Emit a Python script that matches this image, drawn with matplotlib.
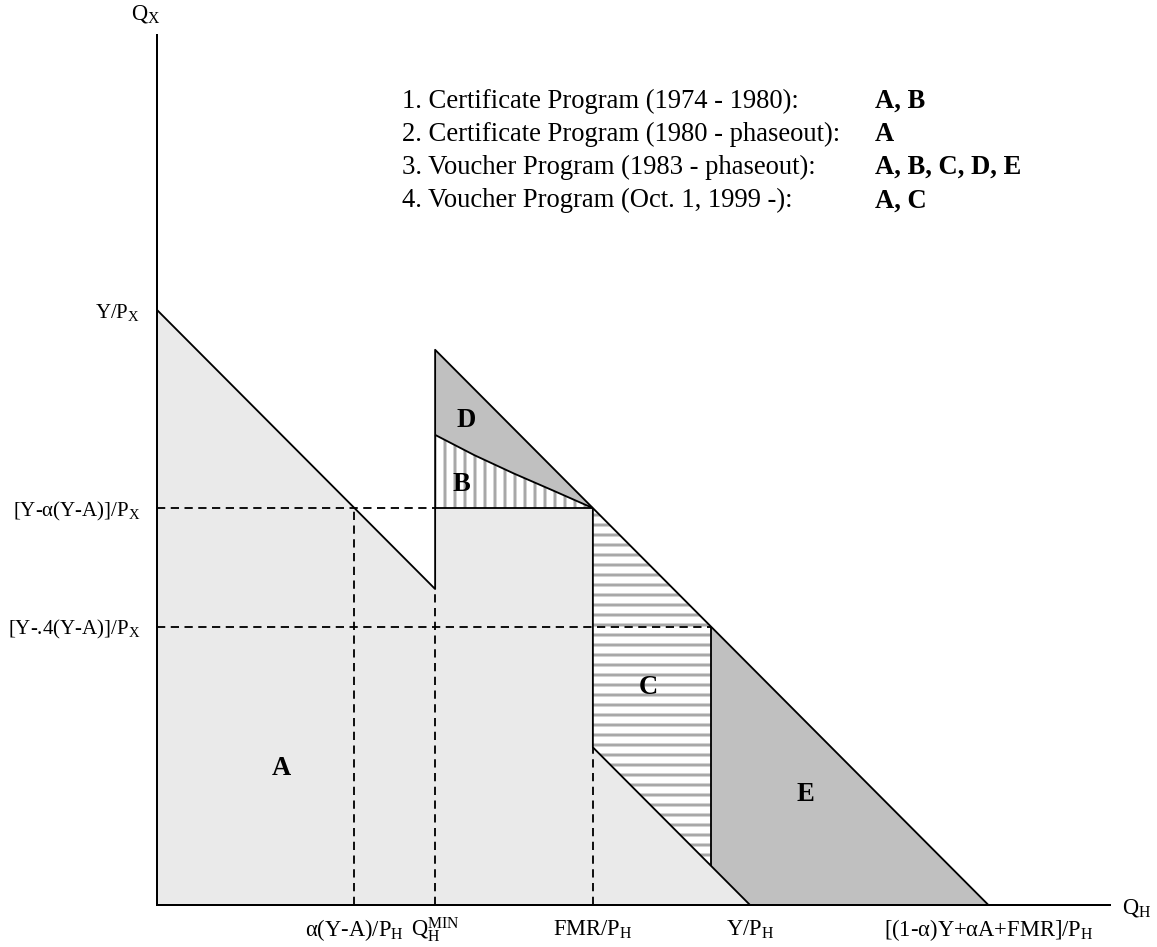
import matplotlib
matplotlib.use("Agg")
import matplotlib.pyplot as plt

plt.rcParams['font.family'] = ['Liberation Serif', 'DejaVu Serif']
plt.rcParams['mathtext.fontset'] = 'custom'
plt.rcParams['mathtext.rm'] = 'Liberation Serif'
plt.rcParams['mathtext.default'] = 'regular'
plt.rcParams['hatch.color'] = '#a8a8a8'
plt.rcParams['hatch.linewidth'] = 1.8

# budget set values (prices normalised to 1)
INCOME = 100.0          # Y/P_X and Y/P_H
ALPHA_YA = 33.3         # alpha(Y-A)
QH_MIN = 46.9           # minimum housing quantity
FMR = 73.5              # fair market rent
Y_04 = 46.8             # [Y-.4(Y-A)]
B_TOP = 79.0            # top of region B at QH_MIN
X_MAX = INCOME - ALPHA_YA + FMR   # [(1-a)Y+aA+FMR]/P_H

# boundary between B and D
curve_x = [QH_MIN, 53.5, 60.2, 66.9, FMR]
curve_y = [B_TOP, 75.6, 72.5, 69.6, INCOME - ALPHA_YA]

xtick_vals = [ALPHA_YA, QH_MIN, FMR, INCOME, X_MAX]
xtick_labels = [r'α(Y-A)/P$_\mathrm{H}$', r'Q$_\mathrm{H}^\mathrm{MIN}$',
                r'FMR/P$_\mathrm{H}$', r'Y/P$_\mathrm{H}$',
                r'[(1-α)Y+αA+FMR]/P$_\mathrm{H}$']
ytick_vals = [INCOME, INCOME - ALPHA_YA, Y_04]
ytick_labels = [r'Y/P$_\mathrm{X}$', r'[Y-α(Y-A)]/P$_\mathrm{X}$',
                r'[Y-.4(Y-A)]/P$_\mathrm{X}$']

programs = ['1. Certificate Program (1974 - 1980):',
            '2. Certificate Program (1980 - phaseout):',
            '3. Voucher Program (1983 - phaseout):',
            '4. Voucher Program (Oct. 1, 1999 -):']
program_areas = ['A, B', 'A', 'A, B, C, D, E', 'A, C']

LIGHT = '#eaeaea'
DARK = '#c0c0c0'
HATCH = '#a8a8a8'

W, H, DPI = 1157, 947, 120
fig = plt.figure(figsize=(W / DPI, H / DPI), dpi=DPI)
ax = fig.add_axes([157 / W, (H - 905) / H, (1110 - 157) / W, (905 - 35) / H])
ax.set_xlim(0, 160.7)
ax.set_ylim(0, 146.2)

ya = INCOME - ALPHA_YA
x04 = X_MAX - Y_04

# A
ax.fill([0, QH_MIN, QH_MIN, FMR, FMR, INCOME, 0],
        [INCOME, INCOME - QH_MIN, ya, ya, INCOME - FMR, 0, 0],
        color=LIGHT, lw=0)
# B
ax.fill([QH_MIN, FMR] + curve_x[::-1], [ya, ya] + curve_y[::-1],
        facecolor='white', edgecolor=HATCH, hatch='||', lw=0)
# D
ax.fill([QH_MIN, FMR] + curve_x[::-1], [X_MAX - QH_MIN, ya] + curve_y[::-1],
        color=DARK, lw=0)
# C
ax.fill([FMR, x04, x04, FMR], [ya, Y_04, INCOME - x04, INCOME - FMR],
        facecolor='white', edgecolor=HATCH, hatch='--', lw=0)
# E
ax.fill([x04, X_MAX, INCOME, x04], [Y_04, 0, 0, INCOME - x04],
        color=DARK, lw=0)

lw = 1.1
k = dict(color='black', lw=lw, solid_capstyle='butt')
ax.plot([0, QH_MIN, QH_MIN, X_MAX],
        [INCOME, INCOME - QH_MIN, X_MAX - QH_MIN, 0], **k)
ax.plot([QH_MIN, FMR], [ya, ya], **k)
ax.plot(curve_x, curve_y, **k)
ax.plot([FMR, FMR, INCOME], [ya, INCOME - FMR, 0], **k)
ax.plot([x04, x04], [Y_04, INCOME - x04], **k)

d = dict(color='black', lw=lw, dashes=(4.5, 3))
ax.plot([0, QH_MIN], [ya, ya], **d)
ax.plot([0, x04], [Y_04, Y_04], **d)
ax.plot([ALPHA_YA, ALPHA_YA], [0, ya], **d)
ax.plot([QH_MIN, QH_MIN], [0, INCOME - QH_MIN], **d)
ax.plot([FMR, FMR], [0, INCOME - FMR], **d)

for s in ['top', 'right']:
    ax.spines[s].set_visible(False)
for s in ['left', 'bottom']:
    ax.spines[s].set_linewidth(1.2)

ax.set_xticks(xtick_vals, xtick_labels, fontsize=13.5)
ax.set_yticks(ytick_vals, ytick_labels, fontsize=12.5)
ax.tick_params(axis='x', length=0, pad=18.6)
ax.tick_params(axis='y', length=0, pad=10)
for lbl in ax.get_xticklabels():
    lbl.set_verticalalignment('baseline')

ax.text(1.013, -0.004, r'Q$_\mathrm{H}$', transform=ax.transAxes,
        fontsize=13.5, ha='left', va='center')
ax.text(-0.012, 1.012, r'Q$_\mathrm{X}$', transform=ax.transAxes,
        fontsize=13.5, ha='center', va='bottom')

region_font = dict(fontsize=16, fontweight='bold', ha='center', va='center')
ax.text(20.9, 23.0, 'A', **region_font)
ax.text(51.3, 70.6, 'B', **region_font)
ax.text(52.1, 81.5, 'D', **region_font)
ax.text(82.8, 36.5, 'C', **region_font)
ax.text(109.3, 18.5, 'E', **region_font)

for i, (p, a) in enumerate(zip(programs, program_areas)):
    yy = 1 - (101 + 33.3 * i) / H
    fig.text(402 / W, yy, p, fontsize=16, ha='left', va='center')
    fig.text(875 / W, yy, a, fontsize=16, fontweight='bold', ha='left', va='center')

fig.savefig('out.png', dpi=DPI)
